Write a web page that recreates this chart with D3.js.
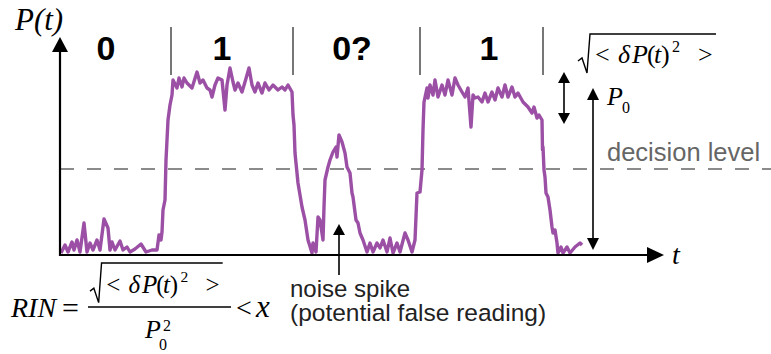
<!DOCTYPE html>
<html>
<head>
<meta charset="utf-8">
<script src="https://cdn.jsdelivr.net/npm/d3@7"></script>
<style>
  body { margin: 0; background: #fff; }
  svg { display: block; }
</style>
</head>
<body>
<div class="canva"></div>
<script>
// signal trace: [time, power] in arbitrary units
const bit0 = [[1,0],[5,8],[8,1],[12,11],[14,3],[17,13],[20,1],[24,30],[27,1],[30,10],[33,3],[37,13],
  [40,3],[44,34],[48,25],[50,3],[52,11],[55,3],[60,12],[63,3],[67,6],[70,1],[75,4],[81,9],[86,1],
  [92,3],[97,3],[99,18],[101,13],[102,21],[103,43],[105,53]];
const bit1 = [[106,93],[107,113],[108,133],[110,148],[112,158],[113,173],[117,165],[119,175],[122,166],
  [124,175],[127,170],[132,165],[137,181],[140,170],[143,173],[147,165],[150,163],[152,156],[155,168],
  [158,175],[162,173],[165,143],[167,168],[170,185],[173,171],[175,163],[178,170],[182,161],[185,171],
  [189,185],[192,168],[195,161],[198,170],[202,160],[205,170],[209,163],[213,168],[218,163],[222,166],
  [225,163],[228,168],[232,161],[233,138],[234,128],[235,100],[238,70],[242,46],[245,33],[248,13],[252,0]];
const bit2 = [[253,10],[256,1],[258,36],[260,33],[263,13],[264,46],[265,73],[268,86],[270,93],[273,101],
  [276,106],[277,96],[279,118],[282,111],[285,100],[287,86],[290,80],[292,60],[293,56],[296,33],[298,30],
  [300,20],[303,13],[307,1],[310,10],[313,1],[317,10],[320,5],[323,13],[327,1],[330,15],[333,0],[337,10],
  [340,1],[345,20],[348,13],[352,1],[355,13],[357,60],[360,61],[362,83],[363,123],[364,151]];
const bit3 = [[367,165],[368,155],[370,168],[373,158],[375,173],[378,156],[382,168],[385,158],[388,173],
  [392,158],[395,175],[398,168],[402,161],[405,156],[408,165],[411,126],[413,158],[415,155],[418,156],
  [422,151],[425,160],[428,151],[432,161],[435,153],[438,165],[442,156],[445,168],[448,156],[452,166],
  [455,156],[458,160],[463,151],[468,146],[472,140],[474,146],[477,135],[479,138],[482,133],[482.5,103],
  [483,106],[484,83],[485,76],[486,60],[488,56],[490,43],[492,26],[493,20],[495,23],[497,10],[498,0],
  [501,6],[503,0],[507,6],[510,0],[515,6],[520,10],[522,8]];

const bitEdges = [111, 233, 360, 483];
const bitLabels = ["0", "1", "0?", "1"];
const bitLabelPos = [46, 162, 292, 429];
const decisionLevel = 84;
const P0 = 165;

const svg = d3.select(".canva").append("svg")
  .attr("width", 771)
  .attr("height", 354);

const x = d3.scaleLinear().domain([0, 605]).range([60, 665]);
const y = d3.scaleLinear().domain([0, 200]).range([253, 53]);

const serif = "'Liberation Serif', 'Times New Roman', serif";
const sans = "'Liberation Sans', Arial, sans-serif";

function arrowHead(g, tx, ty, dir, len, half) {
  // dir: "up", "down", "right"
  let pts;
  if (dir === "up") pts = [[tx, ty], [tx - half, ty + len], [tx + half, ty + len]];
  else if (dir === "down") pts = [[tx, ty], [tx - half, ty - len], [tx + half, ty - len]];
  else pts = [[tx, ty], [tx - len, ty - half], [tx - len, ty + half]];
  g.append("path").attr("d", "M" + pts.join("L") + "Z").attr("fill", "#000");
}

// decision level
svg.append("line")
  .attr("x1", x(0)).attr("x2", 771)
  .attr("y1", y(decisionLevel)).attr("y2", y(decisionLevel))
  .attr("stroke", "#666").attr("stroke-width", 1.4)
  .attr("stroke-dasharray", "14,13");

svg.append("text")
  .attr("x", 607).attr("y", y(decisionLevel) - 8)
  .attr("font-family", sans).attr("font-size", 25.5)
  .attr("fill", "#666")
  .text("decision level");

// bit separators and labels
svg.selectAll(".sep").data(bitEdges).enter().append("line")
  .attr("x1", d => x(d)).attr("x2", d => x(d))
  .attr("y1", 27).attr("y2", 75)
  .attr("stroke", "#777").attr("stroke-width", 2);

svg.selectAll(".bit").data(bitLabels).enter().append("text")
  .attr("x", (d, i) => x(bitLabelPos[i]))
  .attr("y", 60)
  .attr("text-anchor", "middle")
  .attr("font-family", sans).attr("font-weight", "bold").attr("font-size", 34)
  .text(d => d);

// signal
const line = d3.line().x(d => x(d[0])).y(d => y(d[1]));
svg.append("path")
  .datum(bit0.concat(bit1, bit2, bit3))
  .attr("d", line)
  .attr("fill", "none")
  .attr("stroke", "#9b50a5")
  .attr("stroke-width", 3.4)
  .attr("stroke-linejoin", "round");

// axes
svg.append("line").attr("x1", 60).attr("x2", 60).attr("y1", 256).attr("y2", 45)
  .attr("stroke", "#000").attr("stroke-width", 2.2);
arrowHead(svg, 60, 37, "up", 15, 8);
svg.append("line").attr("x1", 59).attr("x2", 655).attr("y1", 255).attr("y2", 255)
  .attr("stroke", "#000").attr("stroke-width", 2.2);
arrowHead(svg, 664, 255, "right", 17, 8);

svg.append("text").attr("x", 15).attr("y", 30)
  .attr("font-family", serif).attr("font-style", "italic").attr("font-size", 31)
  .text("P(t)");
svg.append("text").attr("x", 672).attr("y", 264)
  .attr("font-family", serif).attr("font-style", "italic").attr("font-size", 28)
  .text("t");

// noise amplitude arrow
svg.append("line").attr("x1", 564).attr("x2", 564).attr("y1", 78).attr("y2", 118)
  .attr("stroke", "#000").attr("stroke-width", 1.6);
arrowHead(svg, 564, 72, "up", 11, 6);
arrowHead(svg, 564, 124, "down", 11, 6);

// P0 arrow
svg.append("line").attr("x1", 593).attr("x2", 593).attr("y1", y(P0) + 6).attr("y2", y(0) - 8)
  .attr("stroke", "#000").attr("stroke-width", 1.6);
arrowHead(svg, 593, y(P0), "up", 12, 6);
arrowHead(svg, 593, y(0) - 3, "down", 12, 6);

svg.append("text").attr("x", 607).attr("y", 105)
  .attr("font-family", serif).attr("font-style", "italic").attr("font-size", 26).text("P");
svg.append("text").attr("x", 622).attr("y", 113)
  .attr("font-family", serif).attr("font-size", 16).text("0");

// sqrt(<dP(t)^2>) helper
function rootMean(g, ox, base, top, size) {
  // ox: left of radical, base: text baseline, top: overline y
  const s = size / 26;
  g.append("path")
    .attr("d", `M${ox},${base - 2 * s}L${ox + 4 * s},${base - 5 * s}L${ox + 9 * s},${base + 10 * s}` +
      `L${ox + 12 * s},${top}L${ox + 138 * s},${top}`)
    .attr("fill", "none").attr("stroke", "#000").attr("stroke-width", 1.4);
  const parts = [
    ["<", 17, false, 1, 0], ["δ", 40, true, 1, 0], ["P", 54, true, 1, 0], ["(", 69, false, 1, 0],
    ["t", 76, true, 1, 0], [")", 83, false, 1, 0], ["2", 94, false, 0.62, -11], [">", 120, false, 1, 0]
  ];
  parts.forEach(p => {
    g.append("text").attr("x", ox + p[1] * s).attr("y", base + p[4] * s)
      .attr("font-family", serif).attr("font-style", p[2] ? "italic" : "normal")
      .attr("font-size", size * p[3]).text(p[0]);
  });
}
rootMean(svg, 578, 63, 34, 26);

// formula
svg.append("text").attr("x", 11).attr("y", 317)
  .attr("font-family", serif).attr("font-style", "italic").attr("font-size", 28).text("RIN");
svg.append("text").attr("x", 62).attr("y", 318)
  .attr("font-family", serif).attr("font-size", 30).text("=");
svg.append("line").attr("x1", 88).attr("x2", 231).attr("y1", 307).attr("y2", 307)
  .attr("stroke", "#000").attr("stroke-width", 1.5);
rootMean(svg, 90, 293, 263, 25);
svg.append("text").attr("x", 145).attr("y", 338)
  .attr("font-family", serif).attr("font-style", "italic").attr("font-size", 26).text("P");
svg.append("text").attr("x", 163).attr("y", 331)
  .attr("font-family", serif).attr("font-size", 16).text("2");
svg.append("text").attr("x", 159).attr("y", 350)
  .attr("font-family", serif).attr("font-size", 16).text("0");
svg.append("text").attr("x", 236).attr("y", 317)
  .attr("font-family", serif).attr("font-size", 28).text("<");
svg.append("text").attr("x", 256).attr("y", 317)
  .attr("font-family", serif).attr("font-style", "italic").attr("font-size", 31).text("x");

// noise spike arrow + note
svg.append("line").attr("x1", 339).attr("x2", 339).attr("y1", 232).attr("y2", 275)
  .attr("stroke", "#000").attr("stroke-width", 1.6);
arrowHead(svg, 339, 224, "up", 11, 6);
svg.append("text").attr("x", 290).attr("y", 297)
  .attr("font-family", sans).attr("font-size", 24).attr("fill", "#222").text("noise spike");
svg.append("text").attr("x", 290).attr("y", 321)
  .attr("font-family", sans).attr("font-size", 24.5).attr("fill", "#222").text("(potential false reading)");
</script>
</body>
</html>
